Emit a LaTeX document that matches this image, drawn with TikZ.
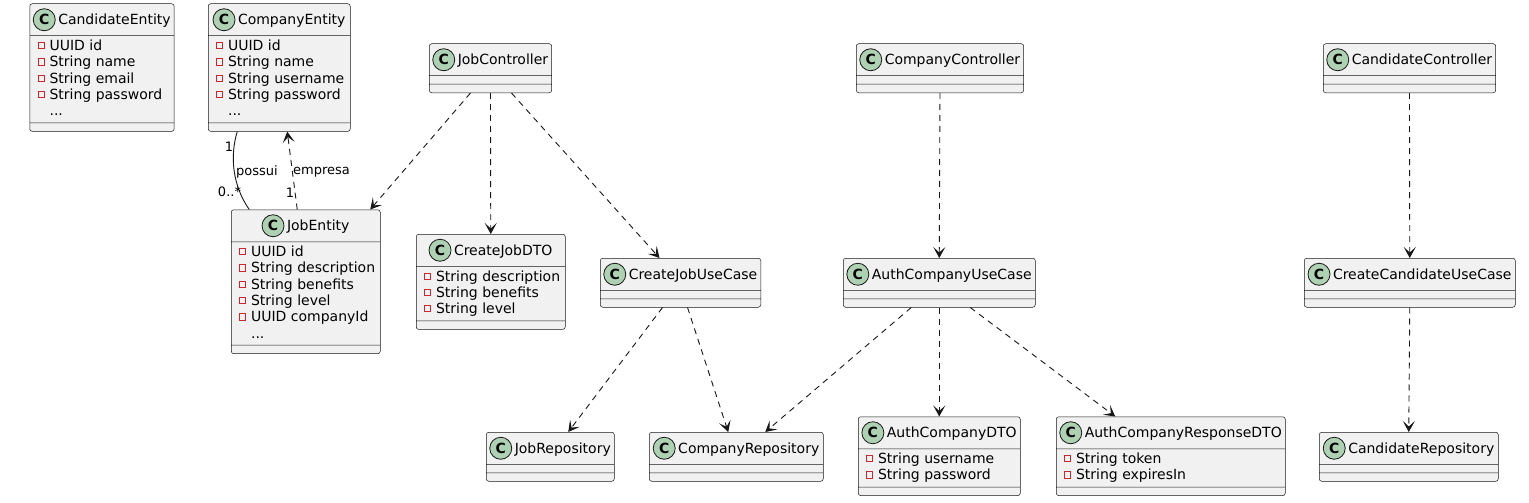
\documentclass[tikz,border=0pt]{standalone}
\usepackage{fontspec}
\setmainfont{DejaVu Sans}
\usepackage{xcolor}
\usepackage{tikz}
\usetikzlibrary{shapes.multipart,arrows.meta}
\definecolor{boxfill}{HTML}{F1F1F1}
\definecolor{linecol}{HTML}{181818}
\definecolor{iconfill}{HTML}{ADD1B2}
\definecolor{privred}{HTML}{C82930}
\newcommand{\privsq}{\textcolor{privred}{\setlength{\fboxrule}{0.8pt}\setlength{\fboxsep}{0pt}\fbox{\rule{0pt}{5.4pt}\hspace{5.4pt}}}}
\newcommand{\ttl}[1]{\hspace*{25pt}#1\rule[-10.6pt]{0pt}{31.5pt}}
\newcommand{\flds}[1]{\vbox{\baselineskip=16.3pt\lineskip=0pt\kern4pt #1\kern4pt}}
\newcommand{\fld}[1]{\hbox{\rule[-2.8pt]{0pt}{13pt}\hspace*{4.5pt}\raisebox{2.3pt}{\privsq}\hspace{4.8pt}#1}}
\newcommand{\fldmore}{\hbox{\rule[-2.8pt]{0pt}{13pt}\hspace*{4.5pt}\hphantom{\privsq}\hspace{4.8pt}...}}
\newcommand{\nopart}{\hbox to 0.1pt{\vrule width 0pt height 8pt depth 0pt\hfil}}

\begin{document}
\begin{tikzpicture}[x=1pt, y=-1pt,
  classbox/.style={draw=linecol, fill=boxfill, line width=0.5pt, rounded corners=2.5pt, rectangle split, rectangle split parts=3, rectangle split part align={center,left,left}, inner xsep=3.5pt, inner ysep=0pt, anchor=north west, font=\fontsize{14pt}{16.3pt}\selectfont},
  classicon/.style={circle, draw=linecol, fill=iconfill, line width=0.8pt, minimum size=22pt, inner sep=0pt, font=\fontsize{14pt}{14pt}\selectfont\bfseries},
  dep/.style={draw=linecol, line width=0.9pt, dash pattern=on 6pt off 5pt, -{Stealth[length=11pt,width=12pt,inset=5.5pt]}},
  assoc/.style={draw=linecol, line width=0.9pt},
  lbl/.style={inner sep=0pt, font=\fontsize{13pt}{15pt}\selectfont}]%
\fill[white] (0,0) rectangle (1529,503);%
\useasboundingbox (0,0) rectangle (1529,503);%
\node[classbox, minimum width=144pt] (candent) at (29.5, 3.5) {\ttl{CandidateEntity}\nodepart{two}\flds{\fld{UUID id}\fld{String name}\fld{String email}\fld{String password}\fldmore}\nodepart{three}\nopart};%
\node[classbox, minimum width=142pt] (compent) at (208, 3.5) {\ttl{CompanyEntity}\nodepart{two}\flds{\fld{UUID id}\fld{String name}\fld{String username}\fld{String password}\fldmore}\nodepart{three}\nopart};%
\node[classbox, minimum width=149pt] (jobent) at (231, 209.5) {\ttl{JobEntity}\nodepart{two}\flds{\fld{UUID id}\fld{String description}\fld{String benefits}\fld{String level}\fld{UUID companyId}\fldmore}\nodepart{three}\nopart};%
\node[classbox, minimum width=122pt] (jobctl) at (429, 43.5) {\ttl{JobController}\nodepart{two}\nopart\nodepart{three}\nopart};%
\node[classbox, minimum width=149pt] (jobdto) at (416, 234) {\ttl{CreateJobDTO}\nodepart{two}\flds{\fld{String description}\fld{String benefits}\fld{String level}}\nodepart{three}\nopart};%
\node[classbox, minimum width=160pt] (jobuc) at (600, 258) {\ttl{CreateJobUseCase}\nodepart{two}\nopart\nodepart{three}\nopart};%
\node[classbox, minimum width=167pt] (compctl) at (856, 43.5) {\ttl{CompanyController}\nodepart{two}\nopart\nodepart{three}\nopart};%
\node[classbox, minimum width=192pt] (authuc) at (843, 258) {\ttl{AuthCompanyUseCase}\nodepart{two}\nopart\nodepart{three}\nopart};%
\node[classbox, minimum width=172pt] (candctl) at (1323, 43.5) {\ttl{CandidateController}\nodepart{two}\nopart\nodepart{three}\nopart};%
\node[classbox, minimum width=211pt] (canduc) at (1304, 258) {\ttl{CreateCandidateUseCase}\nodepart{two}\nopart\nodepart{three}\nopart};%
\node[classbox, minimum width=128pt] (jobrepo) at (486, 432) {\ttl{JobRepository}\nodepart{two}\nopart\nodepart{three}\nopart};%
\node[classbox, minimum width=174pt] (comprepo) at (649, 432) {\ttl{CompanyRepository}\nodepart{two}\nopart\nodepart{three}\nopart};%
\node[classbox, minimum width=162pt] (authdto) at (858, 416.5) {\ttl{AuthCompanyDTO}\nodepart{two}\flds{\fld{String username}\fld{String password}}\nodepart{three}\nopart};%
\node[classbox, minimum width=229pt] (authresp) at (1056, 416.5) {\ttl{AuthCompanyResponseDTO}\nodepart{two}\flds{\fld{String token}\fld{String expiresIn}}\nodepart{three}\nopart};%
\node[classbox, minimum width=179pt] (candrepo) at (1319, 432) {\ttl{CandidateRepository}\nodepart{two}\nopart\nodepart{three}\nopart};%
\foreach \cls in {candent, compent, jobent, jobctl, jobdto, jobuc, compctl, authuc, candctl, canduc, jobrepo, comprepo, authdto, authresp, candrepo}
  \node[classicon] (\cls-c) at ([xshift=11pt, yshift=5.15pt]\cls.text) {C};%
\draw[assoc] ([xshift=-42pt]compent.south) .. controls (230,155) and (232,185) .. ([xshift=-56.5pt]jobent.north);%
\draw[dep] ([xshift=-8.5pt]jobent.north) -- ([xshift=8pt]compent.south);%
\node[lbl] (possuione) at (229, 147) {1};%
\node[lbl] (possui) at (257, 172) {possui};%
\node[lbl] (possuimany) at (229.5, 192) {0..*};%
\node[lbl] (empresa) at (321.5, 172) {empresa};%
\node[lbl] (empresaone) at (290, 192.5) {1};%
\draw[dep] ([xshift=-20pt]jobctl.south) -- ([xshift=64.5pt]jobent.north);%
\draw[dep] (jobctl.south) -- (jobdto.north);%
\draw[dep] ([xshift=21pt]jobctl.south) -- ([xshift=-21pt]jobuc.north);%
\draw[dep] (compctl.south) -- (authuc.north);%
\draw[dep] (candctl.south) -- (canduc.north);%
\draw[dep] ([xshift=-18pt]jobuc.south) -- ([xshift=18pt]jobrepo.north);%
\draw[dep] ([xshift=7pt]jobuc.south) -- ([xshift=-8pt]comprepo.north);%
\draw[dep] ([xshift=-28pt]authuc.south) -- ([xshift=29pt]comprepo.north);%
\draw[dep] (authuc.south) -- (authdto.north);%
\draw[dep] ([xshift=31pt]authuc.south) -- ([xshift=-55.5pt]authresp.north);%
\draw[dep] (canduc.south) -- (candrepo.north);%
\end{tikzpicture}
\end{document}
